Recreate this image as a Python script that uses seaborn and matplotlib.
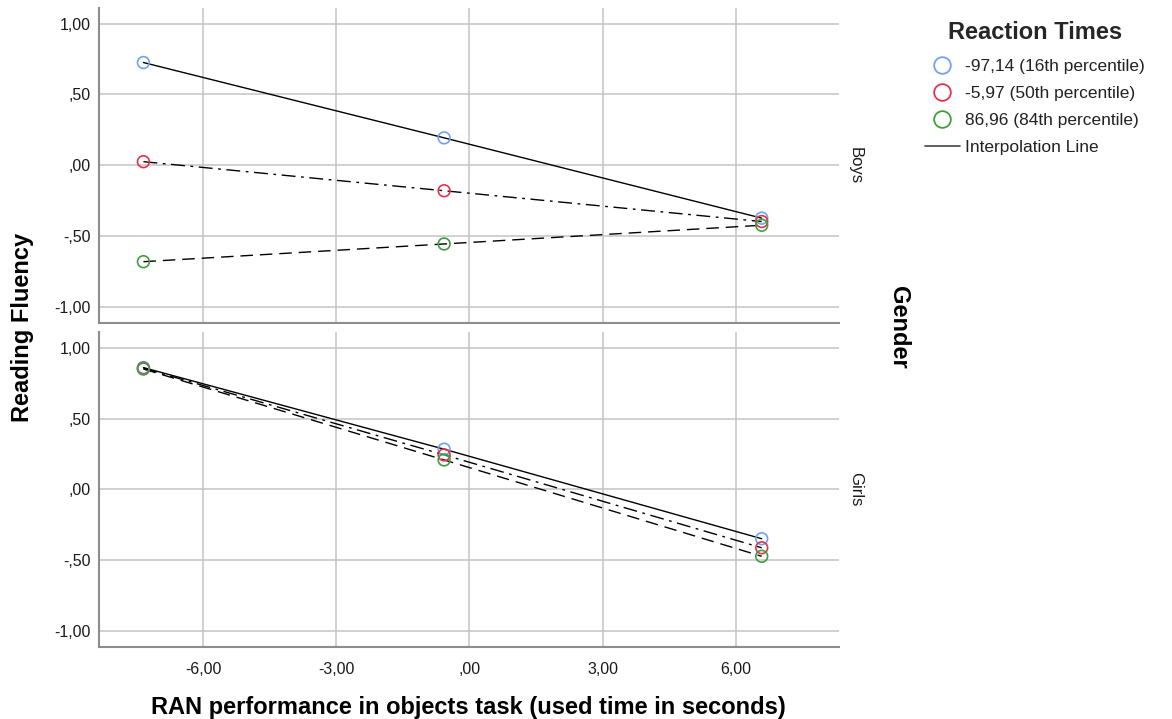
import numpy as np
import pandas as pd
import matplotlib
matplotlib.use("Agg")
import matplotlib.pyplot as plt
import seaborn as sns
from matplotlib.lines import Line2D
from matplotlib.ticker import FuncFormatter, FixedLocator

# RAN performance (centered, seconds) at which fluency is estimated
ran_time = [-7.34, -0.57, 6.58]

# Estimated reading fluency per reaction-time level
boys_p16 = [0.725, 0.194, -0.372]
boys_p50 = [0.026, -0.179, -0.396]
boys_p84 = [-0.679, -0.554, -0.422]
girls_p16 = [0.860, 0.284, -0.348]
girls_p50 = [0.855, 0.244, -0.412]
girls_p84 = [0.850, 0.208, -0.472]

rt_levels = ["-97,14 (16th percentile)", "-5,97 (50th percentile)", "86,96 (84th percentile)"]
genders = ["Boys", "Girls"]
x_ticks = [-6, -3, 0, 3, 6]
y_ticks = [-1.0, -0.5, 0.0, 0.5, 1.0]

rows = []
for g, series in zip(genders, [[boys_p16, boys_p50, boys_p84], [girls_p16, girls_p50, girls_p84]]):
    for lvl, vals in zip(rt_levels, series):
        for x, y in zip(ran_time, vals):
            rows.append({"gender": g, "rt": lvl, "ran": x, "fluency": y})
df = pd.DataFrame(rows)

sns.set_theme(style="white")
plt.rcParams["font.family"] = ["Liberation Sans", "DejaVu Sans"]

colors = {rt_levels[0]: "#6fa3ef", rt_levels[1]: "#e3334f", rt_levels[2]: "#3f9f3f"}
dashes = {rt_levels[0]: "", rt_levels[1]: (10, 4, 2, 4), rt_levels[2]: (9, 5)}
grid_c = "#c4c4c4"
spine_c = "#8c8c8c"
text_c = "#1a1a1a"


def spss_fmt(v, pos=None):
    s = f"{v:.2f}".replace(".", ",")
    if s in ("-0,00", "0,00"):
        return ",00"
    if s.startswith("0,"):
        return s[1:]
    if s.startswith("-0,"):
        return "-" + s[2:]
    return s


fig = plt.figure(figsize=(11.72, 7.19), dpi=100)
left, width = 99 / 1172, 740 / 1172
ax_top = fig.add_axes([left, 0.551, width, 0.438])
ax_bot = fig.add_axes([left, 0.1006, width, 0.4374])

for ax, g in zip([ax_top, ax_bot], genders):
    sub = df[df["gender"] == g]
    sns.lineplot(data=sub, x="ran", y="fluency", style="rt", dashes=dashes,
                 color="black", linewidth=1.0, legend=False, sort=False, ax=ax, zorder=2)
    for lvl in rt_levels:
        s2 = sub[sub["rt"] == lvl]
        sns.scatterplot(x=s2["ran"], y=s2["fluency"], ax=ax, marker="o", s=72,
                        color=colors[lvl], facecolor="none", edgecolor=colors[lvl],
                        linewidth=1.2, zorder=3, legend=False)
    ax.set_xlim(-8.34, 8.32)
    ax.set_ylim(-1.11, 1.11)
    ax.xaxis.set_major_locator(FixedLocator(x_ticks))
    ax.yaxis.set_major_locator(FixedLocator(y_ticks))
    ax.yaxis.set_major_formatter(FuncFormatter(spss_fmt))
    ax.xaxis.set_major_formatter(FuncFormatter(spss_fmt))
    ax.grid(True, color=grid_c, linewidth=1.1)
    ax.set_axisbelow(True)
    for side in ["top", "right"]:
        ax.spines[side].set_visible(False)
    for side in ["left", "bottom"]:
        ax.spines[side].set_color(spine_c)
        ax.spines[side].set_linewidth(1.5)
    ax.tick_params(axis="both", length=3, width=1, color=spine_c,
                   labelsize=11.5, labelcolor=text_c, direction="out")
    ax.tick_params(axis="y", pad=3)
    ax.tick_params(axis="x", pad=8)
    ax.set_xlabel("")
    ax.set_ylabel("")
    ax.text(1.022, 0.5, g, rotation=-90, ha="center", va="center",
            fontsize=12, color=text_c, transform=ax.transAxes)

ax_top.tick_params(axis="x", labelbottom=False)

fig.text(0.019, 0.545, "Reading Fluency", rotation=90, ha="center", va="center",
         fontsize=17, fontweight="bold", color="black")
fig.text(0.400, 0.0155, "RAN performance in objects task (used time in seconds)",
         ha="center", va="center", fontsize=17, fontweight="bold", color="black")
fig.text(0.767, 0.545, "Gender", rotation=-90, ha="center", va="center",
         fontsize=17, fontweight="bold", color="black")

handles = [Line2D([], [], linestyle="none", marker="o", markersize=12,
                  markerfacecolor="none", markeredgecolor=colors[l], markeredgewidth=1.3)
           for l in rt_levels]
handles.append(Line2D([], [], color="#444444", linewidth=1.2))
labels = rt_levels + ["Interpolation Line"]
leg = fig.legend(handles, labels, loc="upper left", bbox_to_anchor=(918 / 1172, 1 - 14 / 719),
                 frameon=False, fontsize=12.5, title="Reaction Times",
                 title_fontproperties={"weight": "bold", "size": 17},
                 handlelength=2.0, handletextpad=0.3, labelspacing=0.68, borderaxespad=0)
leg._legend_box.sep = 11
for t in leg.get_texts():
    t.set_color("#222222")

fig.savefig("out.png", dpi=100)
